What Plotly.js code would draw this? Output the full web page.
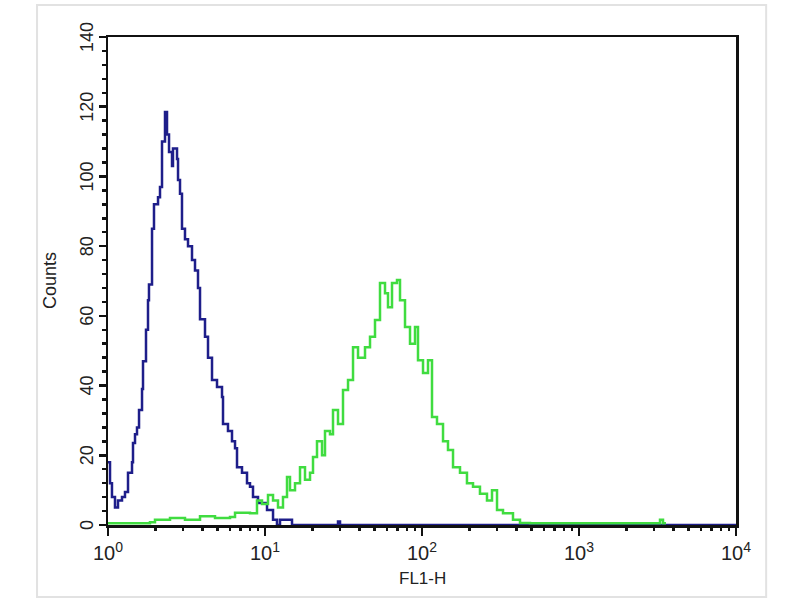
<!DOCTYPE html>
<html>
<head>
<meta charset="utf-8">
<script src="https://cdn.plot.ly/plotly-3.0.1.min.js"></script>
<style>html,body{margin:0;padding:0;background:#fff;}#chart{width:800px;height:600px;}</style>
</head>
<body>
<div id="chart"></div>
<script>
// Isotype control (blue) histogram: FL1-H channel value and counts
const blueX = [1.000,1.030,1.060,1.108,1.158,1.228,1.283,1.341,1.422,1.443,1.486,1.530,1.576,1.647,1.671,1.746,1.798,1.824,1.907,1.963,2.083,2.144,2.208,2.307,2.376,2.447,2.557,2.594,2.752,2.793,2.875,2.960,3.093,3.233,3.428,3.582,3.743,3.855,4.148,4.335,4.597,4.947,5.323,5.402,5.810,6.163,6.442,6.633,7.137,7.681,8.025,8.386,9.024,10.30,11.25,11.92,12.46,13.81,14.86,28.33,29.17,30.05,10000];
const blueY = [18,12,8,5,7,8,9.5,15,18,23.5,26,28,33,39,47,56,64.5,69,85,92,94,97,110,118.5,112,107,103,108,105,99,95,85,82,80,76,73,68,59,54,48,41.6,39.6,36.7,29,27,24,22,16.6,15,12,11,8,6.3,4.3,1.5,0,1.5,1.5,0,0,1,0,0];
// Antibody-stained (green) histogram
const greenX = [1.000,1.851,1.992,2.483,3.093,3.855,4.804,5.985,6.442,8.025,8.892,9.570,10.45,11.25,12.10,13.02,13.81,14.43,15.53,16.71,17.98,19.35,20.22,21.44,23.08,24.11,25.94,27.11,29.17,31.39,33.79,36.36,39.13,43.35,46.65,50.19,54.01,58.12,60.73,64.41,69.31,72.43,77.94,83.87,90.25,94.30,101.5,109.2,115.8,124.6,136.1,146.4,157.6,174.6,193.4,211.3,234.0,259.4,279.2,300.5,328.1,379.8,420.9,487.5,3281,3428,3582,10000];
const greenY = [0.5,0.8,1.5,2,1.5,2.5,2,2.3,3.5,3.4,7,6,8.6,7,5,8,13.8,10,12,16.6,13,15,19.5,24,20,27,26,33,29,38.7,41.6,51,48,51,54,58.8,69.4,66.5,62.5,69.4,70.3,64.5,56.8,52,56.8,47.3,43.6,47.3,31,29,24,21.5,16.6,15,12,11,9,7,10,4.3,3.4,1.5,0.6,0.5,1.5,0.5,0.5];
// Axis ticks
const xMajorVals = [1,10,100,1000,10000];
const xMajorText = ['10<sup>0</sup>','10<sup>1</sup>','10<sup>2</sup>','10<sup>3</sup>','10<sup>4</sup>'];
const xMinorVals = [2,3,4,5,6,7,8,9,20,30,40,50,60,70,80,90,200,300,400,500,600,700,800,900,2000,3000,4000,5000,6000,7000,8000,9000];
const yMajorVals = [0,20,40,60,80,100,120,140];
const yMinorVals = [4,8,12,16,24,28,32,36,44,48,52,56,64,68,72,76,84,88,92,96,104,108,112,116,124,128,132,136];
const xTitle = 'FL1-H';
const yTitle = 'Counts';

const fam = 'Arial, "Liberation Sans", sans-serif';
const txtColor = '#222';

const data = [
  {x: blueX, y: blueY, type: 'scatter', mode: 'lines', line: {color: '#1e1e8a', width: 2.5, shape: 'hv'}, hoverinfo: 'skip'},
  {x: greenX, y: greenY, type: 'scatter', mode: 'lines', line: {color: '#40dc40', width: 2.5, shape: 'hv'}, hoverinfo: 'skip'},
  {x: [1], y: [0], xaxis: 'x2', yaxis: 'y2', type: 'scatter', mode: 'markers', marker: {opacity: 0}, hoverinfo: 'skip'}
];

const annotations = [];
xMajorVals.forEach((v, i) => annotations.push({
  x: Math.log10(v), xref: 'x', y: 0, yref: 'paper', yanchor: 'top', xanchor: 'center', yshift: -12,
  text: xMajorText[i], showarrow: false, font: {family: fam, size: 20, color: txtColor}
}));
yMajorVals.forEach(v => annotations.push({
  x: 0, xref: 'paper', y: v, yref: 'y', xanchor: 'center', yanchor: 'middle', xshift: -21,
  text: String(v), textangle: -90, showarrow: false, font: {family: fam, size: 18, color: txtColor}
}));
annotations.push({x: 0.5, xref: 'paper', y: 0, yref: 'paper', yanchor: 'top', xanchor: 'center', yshift: -42,
  text: xTitle, showarrow: false, font: {family: fam, size: 17, color: txtColor}});
annotations.push({x: 0, xref: 'paper', y: 0.5, yref: 'paper', xanchor: 'center', yanchor: 'middle', xshift: -58,
  text: yTitle, textangle: -90, showarrow: false, font: {family: fam, size: 18, color: txtColor}});

const layout = {
  width: 800, height: 600,
  margin: {l: 108, r: 64, t: 37, b: 75},
  paper_bgcolor: '#fff', plot_bgcolor: '#fff',
  showlegend: false,
  font: {family: fam, size: 18, color: txtColor},
  xaxis: {
    type: 'log', range: [0, 4],
    tickmode: 'array', tickvals: xMajorVals, showticklabels: false,
    ticks: 'outside', ticklen: 8, tickwidth: 2.5, tickcolor: '#111',
    showline: true, linecolor: '#111', linewidth: 2.5, mirror: true,
    showgrid: false, zeroline: false
  },
  yaxis: {
    range: [0, 140],
    tickmode: 'array', tickvals: yMajorVals, showticklabels: false,
    ticks: 'outside', ticklen: 7, tickwidth: 2.5, tickcolor: '#111',
    showline: true, linecolor: '#111', linewidth: 2.5, mirror: true,
    showgrid: false, zeroline: false
  },
  xaxis2: {
    type: 'log', range: [0, 4], overlaying: 'x', side: 'bottom', anchor: 'y',
    tickmode: 'array', tickvals: xMinorVals, showticklabels: false,
    ticks: 'outside', ticklen: 5, tickwidth: 2.5, tickcolor: '#111',
    showline: false, showgrid: false, zeroline: false
  },
  yaxis2: {
    range: [0, 140], overlaying: 'y', side: 'left', anchor: 'x',
    tickmode: 'array', tickvals: yMinorVals, showticklabels: false,
    ticks: 'outside', ticklen: 5, tickwidth: 2.5, tickcolor: '#111',
    showline: false, showgrid: false, zeroline: false
  },
  annotations: annotations,
  shapes: [
    {type: 'rect', xref: 'paper', yref: 'paper', x0: -0.113, x1: 1.048, y0: -0.1475, y1: 1.0656,
     line: {color: '#e2e2e2', width: 2}, layer: 'below'}
  ]
};

Plotly.newPlot('chart', data, layout, {staticPlot: true, displayModeBar: false});
</script>
</body>
</html>
